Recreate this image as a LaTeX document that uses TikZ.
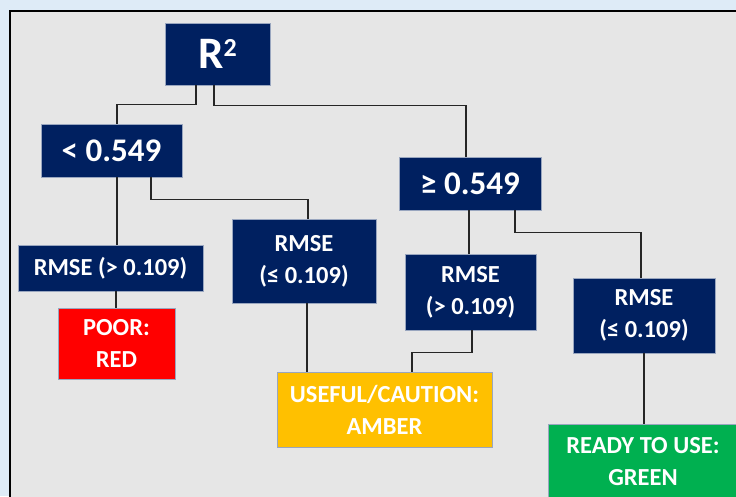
\documentclass[tikz,border=0pt]{standalone}
\usepackage{fontspec}
\setmainfont{Carlito}
\usepackage{xcolor}
\usepackage{tikz}
\usetikzlibrary{positioning,calc}
\definecolor{navy}{HTML}{002060}
\definecolor{poorred}{HTML}{FF0000}
\definecolor{amber}{HTML}{FFC000}
\definecolor{readygreen}{HTML}{00B050}
\definecolor{panelgray}{HTML}{E6E6E6}
\definecolor{paleblue}{HTML}{DEEBF7}
\tikzset{
	box/.style = {
			draw       = white!60!navy,
			line width = 0.4pt,
			text       = white,
			font       = \bfseries\fontsize{24.5}{32}\selectfont,
			align      = center,
			inner sep  = 0pt,
		},
	split/.style   = {box, fill=navy},
	verdict/.style = {box},
	bigtext/.style = {font=\bfseries\fontsize{33}{33}\selectfont},
	link/.style    = {draw=black!85, line width=1.3pt},
}

\begin{document}
\begin{tikzpicture}[x=1pt,y=-1pt]
	% Canvas and panel
	\useasboundingbox (0,0) rectangle (736,496);
	\clip (0,0) rectangle (736,496);
	\fill[paleblue] (0,0) rectangle (736,496);
	\draw[fill=panelgray, line width=1.8pt] (10,11) rectangle (760,520);

	% Root: R squared
	\node[split, minimum width=105pt, minimum height=62pt, font=\bfseries\fontsize{45}{45}\selectfont] (rsq) at (217.5,54) {R\raisebox{12pt}{\fontsize{26}{26}\selectfont 2}};

	% Thresholds on R squared
	\node[split, bigtext, minimum width=141pt, minimum height=53pt] (lo) at (111.5,150.5) {< 0.549};
	\node[split, bigtext, minimum width=142pt, minimum height=53pt] (hi) at (470,183.5) {≥ 0.549};

	% RMSE splits
	\node[split, minimum width=185pt, minimum height=46pt] (lorm1) at (110.5,268) {RMSE (> 0.109)};
	\node[split, minimum width=144pt, minimum height=84pt] (lorm2) at (304,261) {RMSE\\(≤ 0.109)};
	\node[split, minimum width=131pt, minimum height=76pt] (hirm1) at (470.5,292) {RMSE\\(> 0.109)};
	\node[split, minimum width=142pt, minimum height=75pt] (hirm2) at (644,315.5) {RMSE\\(≤ 0.109)};

	% Verdicts
	\node[verdict, fill=poorred, minimum width=117pt, minimum height=71pt] (poor) at (116.5,343.5) {POOR:\\RED};
	\node[verdict, fill=amber, minimum width=215pt, minimum height=75pt] (useful) at (384.5,409.5) {USEFUL/CAUTION:\\AMBER};
	\node[verdict, fill=readygreen, minimum width=190pt, minimum height=75pt] (ready) at (643,461.5) {READY TO USE:\\GREEN};

	% Connectors
	\draw[link] ([xshift=-21.5pt]rsq.south) -- ++(0,19) -| ([xshift=5.5pt]lo.north);
	\draw[link] ([xshift=-3.5pt]rsq.south) -- ++(0,20) -| ([xshift=-4pt]hi.north);
	\draw[link] ([xshift=5.5pt]lo.south) -- ([xshift=6.5pt]lorm1.north);
	\draw[link] ([xshift=39.5pt]lo.south) -- ++(0,22) -| ([xshift=4pt]lorm2.north);
	\draw[link] ([xshift=-1pt]hi.south) -- ([xshift=-1.5pt]hirm1.north);
	\draw[link] ([xshift=45pt]hi.south) -- ++(0,22) -| ([xshift=-3pt]hirm2.north);
	\draw[link] ([xshift=5.5pt]lorm1.south) -- ([xshift=-0.5pt]poor.north);
	\draw[link] ([xshift=3pt]lorm2.south) -- ([xshift=-77.5pt]useful.north);
	\draw[link] ([xshift=1.5pt]hirm1.south) -- ++(0,22) -| ([xshift=27.5pt]useful.north);
	\draw[link] (hirm2.south) -- ([xshift=1pt]ready.north);
\end{tikzpicture}
\end{document}
